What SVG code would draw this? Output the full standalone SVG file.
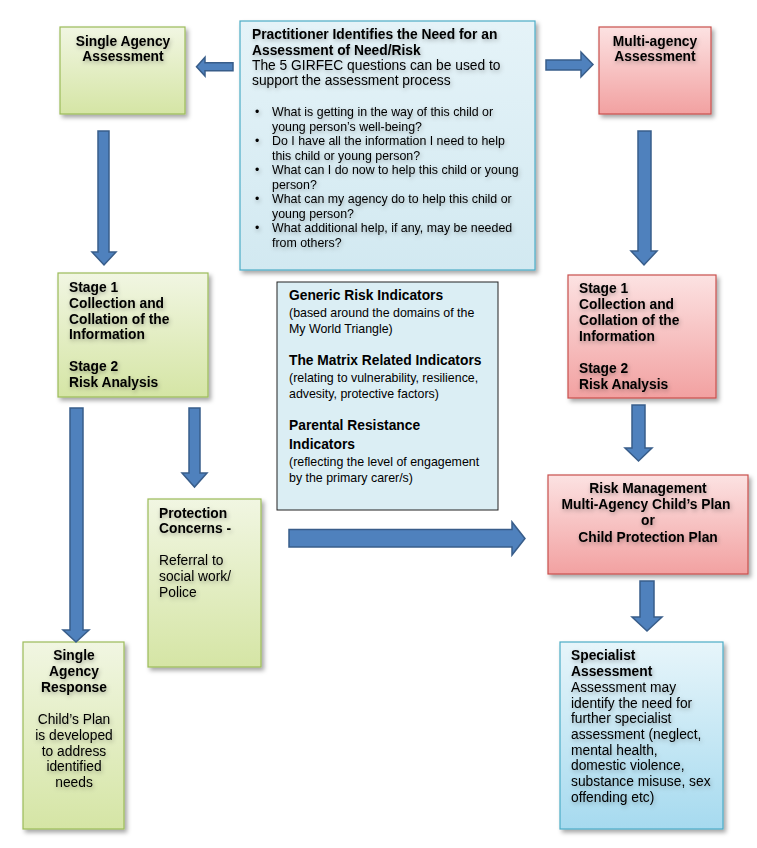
<svg xmlns="http://www.w3.org/2000/svg" width="757" height="848" viewBox="0 0 757 848">
<defs>
<linearGradient id="gGreen" x1="0" y1="0" x2="0" y2="1"><stop offset="0" stop-color="#f1f6e2"/><stop offset="1" stop-color="#d5e5a5"/></linearGradient>
<linearGradient id="gPink" x1="0" y1="0" x2="0" y2="1"><stop offset="0" stop-color="#fce2e2"/><stop offset="1" stop-color="#f2a1a1"/></linearGradient>
<linearGradient id="gBlue" x1="0" y1="0" x2="0" y2="1"><stop offset="0" stop-color="#e5f3f8"/><stop offset="1" stop-color="#d2e9f1"/></linearGradient>
<linearGradient id="gSpec" x1="0" y1="0" x2="0" y2="1"><stop offset="0" stop-color="#e7f5fa"/><stop offset="1" stop-color="#a6daef"/></linearGradient>
<filter id="boxShadow" x="-10%" y="-10%" width="130%" height="130%"><feDropShadow dx="2.5" dy="3" stdDeviation="2" flood-color="#000" flood-opacity="0.35"/></filter>
<filter id="txtShadow" x="-10%" y="-20%" width="120%" height="150%"><feDropShadow dx="1" dy="2" stdDeviation="2" flood-color="#000" flood-opacity="0.3"/></filter>
</defs>
<style>
text{font-family:"Liberation Sans",Arial,sans-serif;fill:#000}
.h{font-size:13.8px;font-weight:bold}
.r{font-size:13.8px}
.s{font-size:12.4px}
.c{text-anchor:middle}
.green{fill:url(#gGreen);stroke:#9bbb59;stroke-width:1.2}
.pink{fill:url(#gPink);stroke:#c9504d;stroke-width:1.2}
.blue{fill:url(#gBlue);stroke:#4bacc6;stroke-width:1.2}
.spec{fill:url(#gSpec);stroke:#4bacc6;stroke-width:1.2}
.plain{fill:#dbeef4;stroke:#222;stroke-width:1}
.arrow{fill:#4f81bd;stroke:#385d8a;stroke-width:1.5;stroke-linejoin:miter}
.ts{filter:url(#txtShadow)}
</style>
<rect width="757" height="848" fill="#fff"/>

<g id="practitioner">
<rect class="blue" x="240" y="21" width="295" height="249" filter="url(#boxShadow)"/>
<g class="ts">
<text class="h" x="252" y="39">Practitioner Identifies the Need for an</text>
<text class="h" x="252" y="55">Assessment of Need/Risk</text>
<text class="r" x="252" y="70">The 5 GIRFEC questions can be used to</text>
<text class="r" x="252" y="85">support the assessment process</text>
<g class="s">
<text x="255" y="116">•</text><text x="272" y="116">What is getting in the way of this child or</text>
<text x="272" y="130.5">young person’s well-being?</text>
<text x="255" y="145">•</text><text x="272" y="145">Do I have all the information I need to help</text>
<text x="272" y="159.5">this child or young person?</text>
<text x="255" y="174">•</text><text x="272" y="174">What can I do now to help this child or young</text>
<text x="272" y="188.5">person?</text>
<text x="255" y="203">•</text><text x="272" y="203">What can my agency do to help this child or</text>
<text x="272" y="217.5">young person?</text>
<text x="255" y="232">•</text><text x="272" y="232">What additional help, if any, may be needed</text>
<text x="272" y="246.5">from others?</text>
</g>
</g>
</g>

<g id="single-agency-assessment">
<rect class="green" x="60" y="27" width="125" height="87" filter="url(#boxShadow)"/>
<g class="ts">
<text class="h c" x="123" y="46">Single Agency</text>
<text class="h c" x="123" y="61">Assessment</text>
</g>
</g>

<g id="multi-agency-assessment">
<rect class="pink" x="599" y="27" width="112" height="87" filter="url(#boxShadow)"/>
<g class="ts">
<text class="h c" x="655" y="46">Multi-agency</text>
<text class="h c" x="655" y="61">Assessment</text>
</g>
</g>

<g id="stage-single">
<rect class="green" x="58" y="273" width="150" height="124" filter="url(#boxShadow)"/>
<g class="ts h">
<text x="69" y="292">Stage 1</text>
<text x="69" y="308">Collection and</text>
<text x="69" y="323.5">Collation of the</text>
<text x="69" y="339">Information</text>
<text x="69" y="371">Stage 2</text>
<text x="69" y="387">Risk Analysis</text>
</g>
</g>

<g id="stage-multi">
<rect class="pink" x="568" y="275" width="148" height="123" filter="url(#boxShadow)"/>
<g class="ts h">
<text x="579" y="293">Stage 1</text>
<text x="579" y="309">Collection and</text>
<text x="579" y="325">Collation of the</text>
<text x="579" y="341">Information</text>
<text x="579" y="373">Stage 2</text>
<text x="579" y="389">Risk Analysis</text>
</g>
</g>

<g id="indicators">
<rect class="plain" x="277" y="282" width="221" height="228"/>
<text class="h" x="289" y="300">Generic Risk Indicators</text>
<text class="s" x="289" y="317">(based around the domains of the</text>
<text class="s" x="289" y="333">My World Triangle)</text>
<text class="h" x="289" y="365">The Matrix Related Indicators</text>
<text class="s" x="289" y="382">(relating to vulnerability, resilience,</text>
<text class="s" x="289" y="398">advesity, protective factors)</text>
<text class="h" x="289" y="430">Parental Resistance</text>
<text class="h" x="289" y="449">Indicators</text>
<text class="s" x="289" y="466">(reflecting the level of engagement</text>
<text class="s" x="289" y="482">by the primary carer/s)</text>
</g>

<g id="protection-concerns">
<rect class="green" x="148" y="499" width="113" height="168" filter="url(#boxShadow)"/>
<g class="ts">
<text class="h" x="159" y="518">Protection</text>
<text class="h" x="159" y="533">Concerns -</text>
<text class="r" x="159" y="565">Referral to</text>
<text class="r" x="159" y="581">social work/</text>
<text class="r" x="159" y="597">Police</text>
</g>
</g>

<g id="risk-management">
<rect class="pink" x="548" y="475" width="200" height="99" filter="url(#boxShadow)"/>
<g class="ts">
<text class="h c" x="648" y="493">Risk Management</text>
<text class="h c" x="646" y="509">Multi-Agency Child’s Plan</text>
<text class="h c" x="648" y="525">or</text>
<text class="h c" x="648" y="542">Child Protection Plan</text>
</g>
</g>

<g id="single-agency-response">
<rect class="green" x="23" y="642" width="101" height="187" filter="url(#boxShadow)"/>
<g class="ts">
<text class="h c" x="74" y="660">Single</text>
<text class="h c" x="74" y="676">Agency</text>
<text class="h c" x="74" y="692">Response</text>
<text class="r c" x="74" y="724">Child’s Plan</text>
<text class="r c" x="74" y="740">is developed</text>
<text class="r c" x="74" y="755.5">to address</text>
<text class="r c" x="74" y="771">identified</text>
<text class="r c" x="74" y="787">needs</text>
</g>
</g>

<g id="specialist-assessment">
<rect class="spec" x="560" y="642" width="163" height="187" filter="url(#boxShadow)"/>
<g class="ts">
<text class="h" x="571" y="660">Specialist</text>
<text class="h" x="571" y="676">Assessment</text>
<text class="r" x="571" y="692">Assessment may</text>
<text class="r" x="571" y="707.5">identify the need for</text>
<text class="r" x="571" y="723">further specialist</text>
<text class="r" x="571" y="739">assessment (neglect,</text>
<text class="r" x="571" y="754.5">mental health,</text>
<text class="r" x="571" y="770">domestic violence,</text>
<text class="r" x="571" y="786">substance misuse, sex</text>
<text class="r" x="571" y="802">offending etc)</text>
</g>
</g>

<g id="connectors">
<polygon class="arrow" points="233,62.7 205,62.7 205,57.3 196.5,66.7 205,76 205,70.7 233,70.7"/>
<polygon class="arrow" points="546,60 581,60 581,52 593,64.5 581,77 581,70 546,70"/>
<polygon class="arrow" points="98,131 109,131 109,252 116,252 104,265 92,252 98,252"/>
<polygon class="arrow" points="638,131 651,131 651,251 657,251 644,265 631,251 638,251"/>
<polygon class="arrow" points="70,408 83,408 83,630 89,630 76,642 63,630 70,630"/>
<polygon class="arrow" points="189,408 200,408 200,473 207,473 194.5,487 182,473 189,473"/>
<polygon class="arrow" points="289,529.5 512,529.5 512,522 525,538.5 512,555 512,547 289,547"/>
<polygon class="arrow" points="632,405 645,405 645,448 652,448 638.5,461 625,448 632,448"/>
<polygon class="arrow" points="640,581 654,581 654,617 662,617 647,631 632,617 640,617"/>
</g>
</svg>
